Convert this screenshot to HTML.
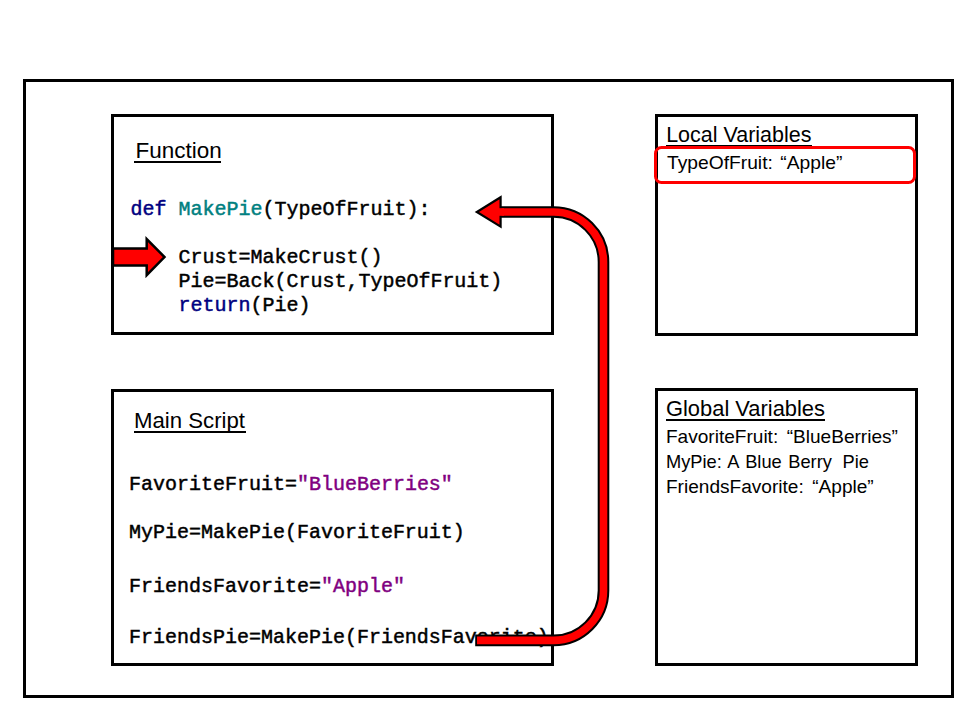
<!DOCTYPE html>
<html><head><meta charset="utf-8">
<style>
html,body{margin:0;padding:0;background:#fff;width:960px;height:720px;overflow:hidden}
svg{position:absolute;left:0;top:0}
text{white-space:pre}
.t{font-family:"Liberation Sans",sans-serif;fill:#000}
.c{font-family:"Liberation Mono",monospace;fill:#000;stroke:#000;stroke-width:0.45px}
.kw{fill:#000080;stroke:#000080}
.fn{fill:#008080;stroke:#008080}
.st{fill:#800080;stroke:#800080}
</style></head><body>
<svg width="960" height="720" viewBox="0 0 960 720">
<rect x="24.5" y="80.5" width="928" height="616" fill="none" stroke="#000" stroke-width="3"/>
<text class="t" font-size="21.2" transform="translate(135.53 158.00) scale(1.0608 1)">Function</text>
<text class="t" font-size="21.2" transform="translate(133.94 428.00) scale(1.0481 1)">Main Script</text>
<text class="t" font-size="21.2" transform="translate(666.18 142.00) scale(1.0141 1)">Local Variables</text>
<text class="t" font-size="18" transform="translate(667.00 169.00) scale(1.0689 1)">TypeOfFruit: <tspan dx="-3"> “Apple”</tspan></text>
<text class="t" font-size="21.2" transform="translate(665.97 415.90) scale(1.0329 1)">Global Variables</text>
<text class="t" font-size="18" transform="translate(665.94 443.00) scale(1.0597 1)">FavoriteFruit: <tspan dx="-2"> “BlueBerries”</tspan></text>
<text class="t" font-size="18" transform="translate(665.98 468.00) scale(1.0151 1)"><tspan style="word-spacing:1.5px">MyPie: A Blue Berry <tspan dx="-2.5"> Pie</tspan></tspan></text>
<text class="t" font-size="18" transform="translate(665.94 493.00) scale(1.0610 1)">FriendsFavorite: <tspan dx="-2"> “Apple”</tspan></text>
<text class="c" font-size="19.3" transform="translate(130.50 215.00) scale(1.0363 1)"><tspan class="kw">def</tspan> <tspan class="fn">MakePie</tspan>(TypeOfFruit):</text>
<text class="c" font-size="19.3" transform="translate(178.50 263.00) scale(1.0363 1)">Crust=MakeCrust()</text>
<text class="c" font-size="19.3" transform="translate(178.50 287.00) scale(1.0363 1)">Pie=Back(Crust,TypeOfFruit)</text>
<text class="c" font-size="19.3" transform="translate(178.50 311.00) scale(1.0363 1)"><tspan class="kw">return</tspan>(Pie)</text>
<text class="c" font-size="19.3" transform="translate(129.00 490.00) scale(1.0363 1)">FavoriteFruit=<tspan class="st">"BlueBerries"</tspan></text>
<text class="c" font-size="19.3" transform="translate(129.00 538.00) scale(1.0363 1)">MyPie=MakePie(FavoriteFruit)</text>
<text class="c" font-size="19.3" transform="translate(129.00 592.00) scale(1.0363 1)">FriendsFavorite=<tspan class="st">"Apple"</tspan></text>
<text class="c" font-size="19.3" transform="translate(129.00 643.00) scale(1.0363 1)">FriendsPie=MakePie(FriendsFavorite)</text>
<!-- boxes -->
<rect x="112.5" y="115.5" width="440" height="218" fill="none" stroke="#000" stroke-width="3"/>
<rect x="112.5" y="390.5" width="440" height="274" fill="none" stroke="#000" stroke-width="3"/>
<rect x="656.5" y="115.5" width="260" height="219" fill="none" stroke="#000" stroke-width="3"/>
<rect x="656.5" y="389.5" width="260" height="275" fill="none" stroke="#000" stroke-width="3"/>
<!-- underlines -->
<rect x="134" y="161" width="87" height="2" fill="#000"/>
<rect x="134" y="431" width="112" height="2" fill="#000"/>
<rect x="666" y="145" width="146" height="2" fill="#000"/>
<rect x="666" y="419" width="159" height="2" fill="#000"/>
<!-- curved arrow -->
<path d="M475.2 640.4 H553 A50 50 0 0 0 603.5 590 V262 A50 50 0 0 0 553 212 H500" fill="none" stroke="#000" stroke-width="11.6"/>
<path d="M477 640.4 H553 A50 50 0 0 0 603.5 590 V262 A50 50 0 0 0 553 212 H500" fill="none" stroke="#f00" stroke-width="7.6"/>
<polygon points="500.6,197.3 476.8,212 500.6,226.6" fill="#f00" stroke="#000" stroke-width="2.2" stroke-linejoin="miter"/>
<rect x="498" y="208.2" width="6" height="7.6" fill="#f00"/>
<!-- straight block arrow -->
<polygon points="113,248.4 146.7,248.4 146.7,239 164.5,257 146.7,275.2 146.7,265.5 113,265.5" fill="#f00" stroke="#000" stroke-width="2.5"/>
<!-- red highlight -->
<rect x="655.5" y="147.5" width="259" height="35" rx="6" ry="6" fill="none" stroke="#f00" stroke-width="3"/>
</svg>
</body></html>
